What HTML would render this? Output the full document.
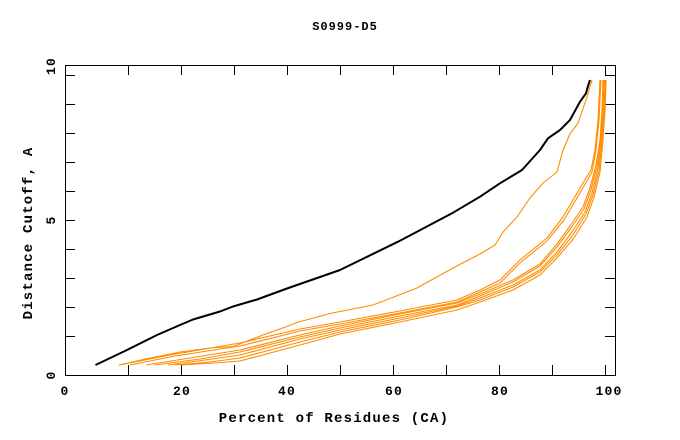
<!DOCTYPE html>
<html>
<head>
<meta charset="utf-8">
<style>
  html, body { margin: 0; padding: 0; background: #ffffff; }
  svg { display: block; }
  text { font-family: "Liberation Mono", "DejaVu Sans Mono", monospace; font-weight: bold; fill: #000; }
</style>
</head>
<body>
<svg width="680" height="440" viewBox="0 0 680 440" xmlns="http://www.w3.org/2000/svg">
  <rect x="0" y="0" width="680" height="440" fill="#ffffff"/>

  <!-- Title -->
  <text x="345" y="30" font-size="12" letter-spacing="1" text-anchor="middle">S0999-D5</text>

  <!-- Frame -->
  <g stroke="#000" stroke-width="1" fill="none" shape-rendering="crispEdges">
    <rect x="65.5" y="65.5" width="550" height="310"/>
    <path d="M128.5 375V365 M181.5 375V365 M234.5 375V365 M287.5 375V365 M340.5 375V365 M393.5 375V365 M446.5 375V365 M499.5 375V365 M552.5 375V365 M605.5 375V365"/>
    <path d="M128.5 65V75 M181.5 65V75 M234.5 65V75 M287.5 65V75 M340.5 65V75 M393.5 65V75 M446.5 65V75 M499.5 65V75 M552.5 65V75 M605.5 65V75"/>
    <path d="M65 75.5H75 M65 104.5H75 M65 133.5H75 M65 162.5H75 M65 191.5H75 M65 220.5H75 M65 249.5H75 M65 278.5H75 M65 307.5H75 M65 336.5H75"/>
    <path d="M615 75.5H605 M615 104.5H605 M615 133.5H605 M615 162.5H605 M615 191.5H605 M615 220.5H605 M615 249.5H605 M615 278.5H605 M615 307.5H605 M615 336.5H605"/>
  </g>

  <!-- X tick labels -->
  <g font-size="13" letter-spacing="1.2" text-anchor="middle">
    <text x="65" y="395">0</text>
    <text x="182" y="395">20</text>
    <text x="287" y="395">40</text>
    <text x="394" y="395">60</text>
    <text x="500" y="395">80</text>
    <text x="609" y="395">100</text>
  </g>

  <!-- Y tick labels (rotated) -->
  <g font-size="13" letter-spacing="1.2" text-anchor="middle">
    <text transform="translate(55,375) rotate(-90)">0</text>
    <text transform="translate(55,220) rotate(-90)">5</text>
    <text transform="translate(55,66) rotate(-90)">10</text>
  </g>

  <!-- Axis labels -->
  <text x="334" y="422" font-size="14" letter-spacing="1.2" text-anchor="middle">Percent of Residues (CA)</text>
  <text transform="translate(32,233) rotate(-90)" font-size="14" letter-spacing="1.2" text-anchor="middle">Distance Cutoff, A</text>

  <!-- Orange curves -->
  <g fill="none" stroke="#ff8c00" stroke-width="1.1" stroke-linejoin="round">
    <!-- upper orange -->
    <polyline points="119,365 150,358 180,352 210,348 233,346.5 263,335 287,326.5 297,322.5 330,313.5 340,311.5 373,305 417,288 453,268 480,254 495,245 503,232 517,217 530,198 543,183 557,172 563,150 570,134 578,123 587,97 592,80"/>
    <!-- group A -->
    <polyline points="119,365 170,355 240,343 300,329 340,322 400,311 457,300 480,290 500,280 520,260 547,238 563,217 583,183 591,170 595,150 598,120 600,80"/>
    <polyline points="130,365 175,356 240,346 300,331 340,324 400,313 457,302 480,292 500,283 520,263 547,241 564,220 584,186 592,172 596,150 599,120 601,80"/>
    <!-- group B -->
    <polyline points="146,365 190,358 240,350 300,335 340,326 400,314 457,303 480,294 513,280 540,264 557,244 570,226 583,207 590,188 596,165 600,140 602,110 603,80"/>
    <polyline points="155,365 200,359 240,352 300,337 340,328 400,316 457,305 480,296 513,282 540,266 557,247 571,228 584,209 591,190 597,166 600,140 603,110 604,80"/>
    <polyline points="168,365 205,360 240,355 300,339 340,330 400,318 457,306 480,298 513,285 540,270 557,252 572,232 585,212 592,193 598,168 601,140 604,110 605,80"/>
    <polyline points="175,365 210,362 240,358 300,342 340,332 400,320 457,307 480,300 513,287 540,272 557,255 573,235 586,214 593,195 599,170 602,140 605,110 606,80"/>
    <polyline points="180,365 215,363 240,361 300,345 340,334 400,322 457,310 480,302 513,290 540,275 557,258 574,238 587,217 594,197 600,172 603,140 605,110 606,80"/>
  </g>

  <!-- Black curve -->
  <polyline fill="none" stroke="#000" stroke-width="2" stroke-linejoin="round"
    points="95.5,365 127,350 157,335 180,325 193,319.5 220,311.5 233,306.5 257,299.5 287,288.5 340,270 398,241.7 417,231.7 452,213.3 480,196.7 500,183.3 522,170 540,150 548,138.3 560,130 570,120 580,101.7 586,93.3 588,86 590,80"/>
</svg>
</body>
</html>
